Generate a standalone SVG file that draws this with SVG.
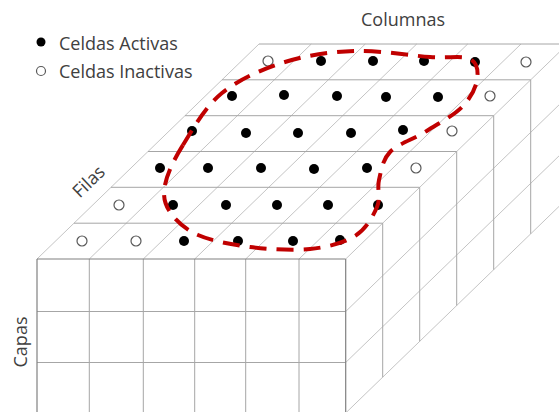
<svg xmlns="http://www.w3.org/2000/svg" width="559" height="412" viewBox="0 0 559 412">
<style>
.t{font-family:"Open Sans","Liberation Sans",sans-serif;font-size:18px;font-weight:400;fill:#404040}
.lt{stroke:#c4c4c4;stroke-width:1;fill:none}
.md{stroke:#a6a6a6;stroke-width:1;fill:none}
.dk{stroke:#808080;stroke-width:1.2;fill:none}
.on{fill:#000}
.off{fill:#fff;stroke:#595959;stroke-width:1.2}
.red{fill:none;stroke:#c00000;stroke-width:4;stroke-dasharray:17 10}
</style>
<rect width="559" height="412" fill="#fff"/>
<g id="grid">
<g class="lt">
<line x1="89.3" y1="259" x2="311.3" y2="44"/>
<line x1="143.3" y1="259" x2="365.3" y2="44"/>
<line x1="194.7" y1="259" x2="416.7" y2="44"/>
<line x1="245.7" y1="259" x2="467.7" y2="44"/>
<line x1="299" y1="259" x2="521" y2="44"/>
<line x1="37" y1="259" x2="259" y2="44"/>
<line x1="345.7" y1="259" x2="567.7" y2="44"/>
<line x1="345.7" y1="311.5" x2="567.7" y2="96.5"/>
<line x1="345.7" y1="362.5" x2="567.7" y2="147.5"/>
<line x1="345.7" y1="413" x2="567.7" y2="198"/>
</g>
<g class="md">
<line x1="74" y1="223.2" x2="382.7" y2="223.2"/>
<line x1="111" y1="187.3" x2="419.7" y2="187.3"/>
<line x1="148" y1="151.5" x2="456.7" y2="151.5"/>
<line x1="185" y1="115.7" x2="493.7" y2="115.7"/>
<line x1="222" y1="79.8" x2="530.7" y2="79.8"/>
<line x1="259" y1="44" x2="567.7" y2="44"/>
<line x1="382.7" y1="223.2" x2="382.7" y2="377.2"/>
<line x1="419.7" y1="187.3" x2="419.7" y2="341.3"/>
<line x1="456.7" y1="151.5" x2="456.7" y2="305.5"/>
<line x1="493.7" y1="115.7" x2="493.7" y2="269.7"/>
<line x1="530.7" y1="79.8" x2="530.7" y2="233.8"/>
<line x1="89.3" y1="259" x2="89.3" y2="413"/>
<line x1="143.3" y1="259" x2="143.3" y2="413"/>
<line x1="194.7" y1="259" x2="194.7" y2="413"/>
<line x1="245.7" y1="259" x2="245.7" y2="413"/>
<line x1="299" y1="259" x2="299" y2="413"/>
<line x1="37" y1="311.5" x2="345.7" y2="311.5"/>
<line x1="37" y1="362.5" x2="345.7" y2="362.5"/>
</g>
<g class="dk">
<line x1="37" y1="259" x2="345.7" y2="259"/>
<line x1="37" y1="259" x2="37" y2="413"/>
<line x1="345.7" y1="259" x2="345.7" y2="413"/>
</g>
</g>
<g id="cells">
<circle class="off" cx="268" cy="61" r="5"/>
<circle class="on" cx="321" cy="61" r="5"/>
<circle class="on" cx="373" cy="61" r="5"/>
<circle class="on" cx="424" cy="61" r="5"/>
<circle class="on" cx="475" cy="62" r="5"/>
<circle class="off" cx="526" cy="62" r="5"/>
<circle class="on" cx="232" cy="96" r="5"/>
<circle class="on" cx="284" cy="95" r="5"/>
<circle class="on" cx="337" cy="96" r="5"/>
<circle class="on" cx="386" cy="97" r="5"/>
<circle class="on" cx="438" cy="97" r="5"/>
<circle class="off" cx="490" cy="96" r="5"/>
<circle class="on" cx="192" cy="131" r="5"/>
<circle class="on" cx="246" cy="133" r="5"/>
<circle class="on" cx="298" cy="133" r="5"/>
<circle class="on" cx="351" cy="133" r="5"/>
<circle class="on" cx="403" cy="130" r="5"/>
<circle class="off" cx="452" cy="131" r="5"/>
<circle class="on" cx="160" cy="168" r="5"/>
<circle class="on" cx="208" cy="168" r="5"/>
<circle class="on" cx="261" cy="168" r="5"/>
<circle class="on" cx="314" cy="169" r="5"/>
<circle class="on" cx="367" cy="168" r="5"/>
<circle class="off" cx="416" cy="168" r="5"/>
<circle class="off" cx="119" cy="205" r="5"/>
<circle class="on" cx="173" cy="205" r="5"/>
<circle class="on" cx="226" cy="205" r="5"/>
<circle class="on" cx="277" cy="205" r="5"/>
<circle class="on" cx="328" cy="205" r="5"/>
<circle class="on" cx="378" cy="205" r="5"/>
<circle class="off" cx="82" cy="241" r="5"/>
<circle class="off" cx="136" cy="241" r="5"/>
<circle class="on" cx="184" cy="241" r="5"/>
<circle class="on" cx="238" cy="241" r="5"/>
<circle class="on" cx="293" cy="241" r="5"/>
<circle class="on" cx="340" cy="240" r="5"/>
</g>
<g id="region">
<path class="red" d="M183,145 C192.5,129.7 205,106.8 222,93 C239,79.2 262.8,69 285,62 C307.2,55 330.8,51.8 355,51 C379.2,50.2 410.8,55.7 430,57 C449.2,58.3 462.2,55.2 470,59 C477.8,62.8 478.3,72 477,80 C475.7,88 470.7,98.3 462,107 C453.3,115.7 437,124.5 425,132 C413,139.5 397.7,144 390,152 C382.3,160 381.2,170.8 379,180 C376.8,189.2 381,197.7 377,207 C373,216.3 366.2,229 355,236 C343.8,243 327.5,247.2 310,249 C292.5,250.8 268.7,249.3 250,247 C231.3,244.7 211.3,240.8 198,235 C184.7,229.2 175.5,220.3 170,212 C164.5,203.7 162.8,196.2 165,185 C167.2,173.8 173.5,160.3 183,145 Z"/>
</g>
<g id="legend">
<circle class="on" cx="41" cy="42" r="4.5"/>
<text class="t" x="59" y="49.5">Celdas Activas</text>
<circle class="off" cx="41" cy="71" r="4.5"/>
<text class="t" x="59" y="77.5">Celdas Inactivas</text>
</g>
<g id="labels">
<text class="t" x="361" y="26">Columnas</text>
<text class="t" text-anchor="middle" transform="translate(93,186) rotate(-44)">Filas</text>
<text class="t" text-anchor="middle" transform="translate(27,342) rotate(-90)">Capas</text>
</g>
</svg>
